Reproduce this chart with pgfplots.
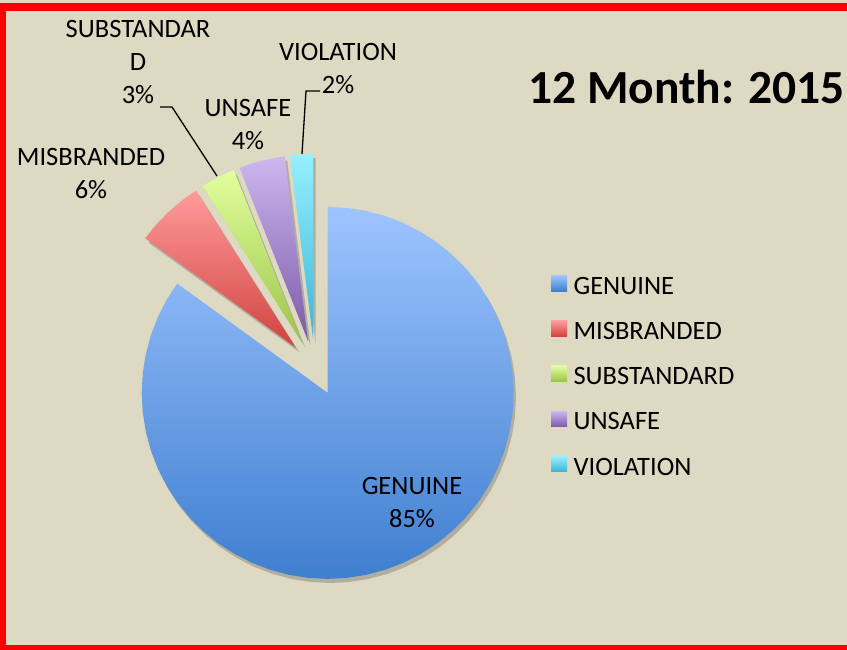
\documentclass[border=0pt]{standalone}
\usepackage{pgfplots}
\pgfplotsset{compat=1.18}
\usepackage{pgfplotstable}
\usepgfplotslibrary{polar}
\usepackage{fontspec}
\setmainfont{Carlito}

\definecolor{bg}{HTML}{DDD9C3}
\definecolor{gentop}{HTML}{9EC4FF}
\definecolor{genbot}{HTML}{3F7FCF}
\definecolor{mistop}{HTML}{FF9B9B}
\definecolor{misbot}{HTML}{D0433F}
\definecolor{subtop}{HTML}{E0FF9E}
\definecolor{subbot}{HTML}{9CC445}
\definecolor{unstop}{HTML}{CDB7EF}
\definecolor{unsbot}{HTML}{7B5AA8}
\definecolor{viotop}{HTML}{95F0FF}
\definecolor{viobot}{HTML}{3DB4D6}

% slice outlines: angle (deg), radius (1 = full)
\pgfplotstableread{
a r
0 0
-216 1
-210 1
-204 1
-198 1
-192 1
-186 1
-180 1
-174 1
-168 1
-162 1
-156 1
-150 1
-144 1
-138 1
-132 1
-126 1
-120 1
-114 1
-108 1
-102 1
-96 1
-90 1
-84 1
-78 1
-72 1
-66 1
-60 1
-54 1
-48 1
-42 1
-36 1
-30 1
-24 1
-18 1
-12 1
-6 1
0 1
6 1
12 1
18 1
24 1
30 1
36 1
42 1
48 1
54 1
60 1
66 1
72 1
78 1
84 1
90 1
}\genuine
\pgfplotstableread{
a r
0 0
122.4 1
126 1
130 1
134 1
138 1
142 1
144 1
}\misbranded
\pgfplotstableread{
a r
0 0
111.6 1
114 1
117 1
120 1
122.4 1
}\substandard
\pgfplotstableread{
a r
0 0
97.2 1
100 1
104 1
108 1
111.6 1
}\unsafe
\pgfplotstableread{
a r
0 0
90 1
93.6 1
97.2 1
}\violation

\begin{document}
\begin{tikzpicture}[x=1pt,y=1pt]
% background and frame
\fill[bg] (0,0) rectangle (847,650);
\fill[red] (0,0) rectangle (6,647);
\fill[red] (0,639) rectangle (847,647);
\fill[red] (0,0) rectangle (847,5);

\begin{polaraxis}[
  at={(315pt,282pt)}, anchor=center,
  width=372pt, height=372pt, scale only axis,
  ymin=0, ymax=1, hide axis, clip=false,
  legend style={draw=none, fill=none, at={(axis description cs:1.134,0.750)},
    anchor=north west, font=\fontsize{26.5}{30}\selectfont, inner sep=0pt,
    row sep=22.5pt, legend cell align=left,
    /tikz/every odd column/.append style={column sep=4.5pt}},
  legend image code/.code={\path[#1, draw=none] (0pt,-4.5pt) rectangle (16pt,11pt);},
]
% shadows
\addplot[forget plot, draw=none, fill=black!70, opacity=0.3, xshift=15pt, yshift=-29pt] table {\genuine};
\addplot[forget plot, draw=none, fill=black!70, opacity=0.3, xshift=-16pt, yshift=16pt] table {\misbranded};
\addplot[forget plot, draw=none, fill=black!70, opacity=0.3, xshift=-10pt, yshift=21pt] table {\substandard};
\addplot[forget plot, draw=none, fill=black!70, opacity=0.3, xshift=-4.5pt, yshift=23pt] table {\unsafe};
\addplot[forget plot, draw=none, fill=black!70, opacity=0.3, xshift=0.7pt, yshift=24pt] table {\violation};
% slices
\addplot[forget plot, draw=none, top color=gentop, bottom color=genbot, xshift=12.7pt, yshift=-24.9pt] table {\genuine};
\addplot[forget plot, draw=none, top color=mistop, bottom color=misbot, xshift=-19.2pt, yshift=20.4pt] table {\misbranded};
\addplot[forget plot, draw=none, top color=subtop, bottom color=subbot, xshift=-12.7pt, yshift=24.9pt] table {\substandard};
\addplot[forget plot, draw=none, top color=unstop, bottom color=unsbot, xshift=-7.0pt, yshift=27.1pt] table {\unsafe};
\addplot[forget plot, draw=none, top color=viotop, bottom color=viobot, xshift=-1.8pt, yshift=27.9pt] table {\violation};
% legend
\addlegendimage{top color=gentop, bottom color=genbot}
\addlegendentry{GENUINE}
\addlegendimage{top color=mistop, bottom color=misbot}
\addlegendentry{MISBRANDED}
\addlegendimage{top color=subtop, bottom color=subbot}
\addlegendentry{SUBSTANDARD}
\addlegendimage{top color=unstop, bottom color=unsbot}
\addlegendentry{UNSAFE}
\addlegendimage{top color=viotop, bottom color=viobot}
\addlegendentry{VIOLATION}
\end{polaraxis}

% data labels
\begin{scope}[every node/.style={align=center, font=\fontsize{26.5}{33}\selectfont, inner sep=0pt}]
\node at (412,147) {GENUINE\\85\%};
\node at (91,476) {MISBRANDED\\6\%};
\node at (138,588) {SUBSTANDAR\\D\\3\%};
\node at (248,525.5) {UNSAFE\\4\%};
\node at (338,581) {VIOLATION\\2\%};
\end{scope}
\draw[line width=1.3pt] (160,543) -- (172,543) -- (217,474);
\draw[line width=1.3pt] (320,559) -- (306,559) -- (302,496);

% title
\node[anchor=base west, inner sep=0pt, font=\fontsize{47.5}{52}\selectfont\bfseries] at (528,546) {12 Month: 2015};

\pgfresetboundingbox
\path (0,0) rectangle (847,650);
\end{tikzpicture}
\end{document}
